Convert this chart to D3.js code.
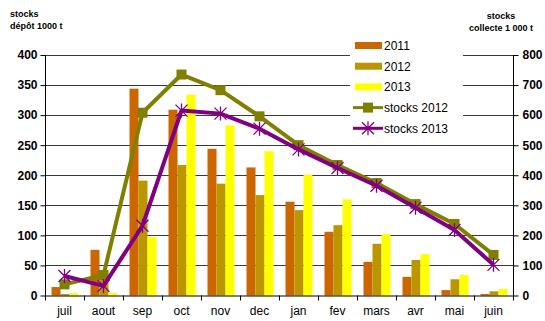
<!DOCTYPE html>
<html>
<head>
<meta charset="utf-8">
<script src="https://cdn.jsdelivr.net/npm/d3@7/dist/d3.min.js"></script>
<style>
  html, body { margin: 0; padding: 0; background: #fff; }
  svg { display: block; font-family: "Liberation Sans", Arial, sans-serif; }
</style>
</head>
<body>
<svg id="chart" width="545" height="321"></svg>
<script>
// Monthly stocks (campaign July -> June)
const months = ["juil", "aout", "sep", "oct", "nov", "dec", "jan", "fev", "mars", "avr", "mai", "juin"];

// Depot stocks, 1000 t (left axis)
const depot2011 = [14, 76, 344, 309, 244, 213, 156, 106, 56, 31, 9, 2.5];
const depot2012 = [2.5, 26, 191, 217, 186, 167, 142, 117, 86, 59, 27, 7];
const depot2013 = [4, 4, 97, 334, 283, 240, 201, 160, 102, 69, 34, 11];

// Collection stocks, 1 000 t (right axis)
const collecte2012 = [37, 68, 608, 735, 683, 596, 500, 434, 374, 304, 238, 135];
const collecte2013 = [65, 32, 232, 615, 605, 555, 486, 424, 365, 292, 218, 102];

const leftTicks = [0, 50, 100, 150, 200, 250, 300, 350, 400];
const rightTicks = [0, 100, 200, 300, 400, 500, 600, 700, 800];

const barSeries = [
  { name: "2011", values: depot2011, color: "#CC6600" },
  { name: "2012", values: depot2012, color: "#BB9600" },
  { name: "2013", values: depot2013, color: "#FFFF00" }
];
const lineSeries = [
  { name: "stocks 2012", values: collecte2012, color: "#808000", marker: "square" },
  { name: "stocks 2013", values: collecte2013, color: "#800080", marker: "star" }
];

const svg = d3.select("#chart");
const plot = { left: 45, right: 513, top: 55, bottom: 295.5 };

const x = d3.scaleBand().domain(months).range([plot.left, plot.right]).padding(0);
const xs = d3.scaleBand().domain(barSeries.map(d => d.name))
  .range([6.5, x.bandwidth() - 5.5]).padding(0);
const yL = d3.scaleLinear().domain([0, 400]).range([plot.bottom, plot.top]);
const yR = d3.scaleLinear().domain([0, 800]).range([plot.bottom, plot.top]);

// gridlines
svg.append("g")
  .selectAll("line").data(leftTicks.slice(1)).join("line")
  .attr("x1", plot.left).attr("x2", plot.right)
  .attr("y1", d => Math.round(yL(d)) + 0.5).attr("y2", d => Math.round(yL(d)) + 0.5)
  .attr("stroke", "#3a3a3a").attr("stroke-width", 1);

// bars
barSeries.forEach(s => {
  svg.append("g").selectAll("rect").data(s.values).join("rect")
    .attr("x", (d, i) => x(months[i]) + xs(s.name))
    .attr("width", xs.bandwidth())
    .attr("y", d => yL(d))
    .attr("height", d => plot.bottom - yL(d))
    .attr("fill", s.color);
});

// left axis
const axL = svg.append("g").attr("transform", `translate(${plot.left + 0.5},0)`)
  .call(d3.axisLeft(yL).tickValues(leftTicks).tickSize(5).tickPadding(3));
axL.select(".domain").attr("stroke", "#000").attr("d", `M0,${plot.top}V${plot.bottom}`);
axL.selectAll(".tick line").attr("stroke", "#000");
axL.selectAll(".tick text").attr("font-size", 12).attr("font-weight", "bold")
  .attr("fill", "#000").attr("font-family", "Liberation Sans, Arial, sans-serif");

// right axis
const axR = svg.append("g").attr("transform", `translate(${plot.right + 0.5},0)`)
  .call(d3.axisRight(yR).tickValues(rightTicks).tickSize(5).tickPadding(4));
axR.select(".domain").attr("stroke", "#000").attr("d", `M0,${plot.top}V${plot.bottom}`);
axR.selectAll(".tick line").attr("stroke", "#000");
axR.selectAll(".tick text").attr("font-size", 12).attr("font-weight", "bold")
  .attr("fill", "#000").attr("font-family", "Liberation Sans, Arial, sans-serif");

// bottom axis with ticks between categories
const axB = svg.append("g").attr("transform", `translate(0,${plot.bottom})`);
axB.append("line").attr("x1", plot.left).attr("x2", plot.right + 1)
  .attr("y1", 0.5).attr("y2", 0.5).attr("stroke", "#000");
axB.selectAll("line.tk").data(months.concat(["end"])).join("line").attr("class", "tk")
  .attr("x1", (d, i) => Math.round(plot.left + i * x.bandwidth()) + 0.5)
  .attr("x2", (d, i) => Math.round(plot.left + i * x.bandwidth()) + 0.5)
  .attr("y1", 0).attr("y2", 5).attr("stroke", "#000");
axB.selectAll("text").data(months).join("text")
  .attr("x", d => x(d) + x.bandwidth() / 2)
  .attr("y", 19.5)
  .attr("text-anchor", "middle")
  .attr("font-size", 12).attr("fill", "#000")
  .text(d => d);

// lines
const line = d3.line().x((d, i) => x(months[i]) + x.bandwidth() / 2).y(d => yR(d));

function drawMarker(g, type, color, cx, cy) {
  if (type === "square") {
    g.append("rect").attr("x", cx - 5).attr("y", cy - 5).attr("width", 10).attr("height", 10)
      .attr("fill", color);
  } else {
    const r = 6;
    const p = d3.path();
    p.moveTo(cx - r, cy - r); p.lineTo(cx + r, cy + r);
    p.moveTo(cx - r, cy + r); p.lineTo(cx + r, cy - r);
    p.moveTo(cx, cy - r - 1); p.lineTo(cx, cy + r + 1);
    g.append("path").attr("d", p.toString()).attr("stroke", color)
      .attr("stroke-width", 1.3).attr("fill", "none");
  }
}

lineSeries.forEach(s => {
  const g = svg.append("g");
  g.append("path").datum(s.values).attr("d", line)
    .attr("fill", "none").attr("stroke", s.color).attr("stroke-width", 4)
    .attr("stroke-linejoin", "round");
  s.values.forEach((v, i) => drawMarker(g, s.marker, s.color, x(months[i]) + x.bandwidth() / 2, yR(v)));
});

// legend
const lg = svg.append("g");
lg.append("rect").attr("x", 350).attr("y", 34).attr("width", 113).attr("height", 106).attr("fill", "#fff");
const legendItems = barSeries.map(s => ({ name: s.name, color: s.color, kind: "bar" }))
  .concat(lineSeries.map(s => ({ name: s.name, color: s.color, kind: s.marker })));
legendItems.forEach((it, i) => {
  const cy = 45.5 + i * 20.7;
  if (it.kind === "bar") {
    lg.append("rect").attr("x", 355).attr("y", cy - 3.5).attr("width", 27).attr("height", 7).attr("fill", it.color);
  } else {
    lg.append("line").attr("x1", 353).attr("x2", 383).attr("y1", cy).attr("y2", cy)
      .attr("stroke", it.color).attr("stroke-width", 3);
    drawMarker(lg, it.kind, it.color, 368, cy);
  }
  lg.append("text").attr("x", 384).attr("y", cy + 4.5).attr("font-size", 12).attr("fill", "#000").text(it.name);
});

// axis titles
const tl = svg.append("g").attr("font-size", 9).attr("font-weight", "bold").attr("fill", "#000");
tl.append("text").attr("x", 10).attr("y", 17).text("stocks");
tl.append("text").attr("x", 10).attr("y", 29).text("dépôt 1000 t");
tl.append("text").attr("x", 501).attr("y", 19).attr("text-anchor", "middle").text("stocks");
tl.append("text").attr("x", 501).attr("y", 31).attr("text-anchor", "middle").text("collecte 1 000 t");
</script>
</body>
</html>
